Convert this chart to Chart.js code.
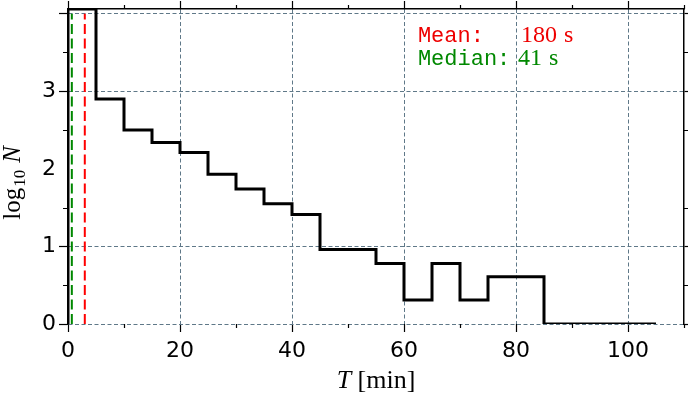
<!DOCTYPE html>
<html>
<head>
<meta charset="utf-8">
<script src="https://cdn.jsdelivr.net/npm/chart.js@4.4.1/dist/chart.umd.min.js"></script>
<style>
  html, body { margin: 0; padding: 0; background: #fff; }
  #wrap { width: 692px; height: 399px; }
</style>
</head>
<body>
<div id="wrap"><canvas id="myChart" width="692" height="399"></canvas></div>
<script>
// bin edges in minutes, 5 min bins and one wide bin at the end
const binEdges = [0, 5, 10, 15, 20, 25, 30, 35, 40, 45, 50, 55, 60, 65, 70, 75, 80, 85, 105];
// log10 of the count in each bin (the first bin runs off the top)
const logCounts = [4.06, 2.90, 2.50, 2.34, 2.21, 1.93, 1.74, 1.55, 1.41, 0.96, 0.96, 0.78, 0.31, 0.78, 0.31, 0.61, 0.61, 0];
// summary values in seconds
const meanSec = 180;
const medianSec = 41;
const statNames = ['Mean:', 'Median:'];
const statTexts = ['180', '41'];
// tick values
const xMajor = [0, 20, 40, 60, 80, 100];
const xMinor = [10, 30, 50, 70, 90, 110];
const yMajor = [0, 1, 2, 3, 4];
const yLabels = ['0', '1', '2', '3', ''];
const yMinor = [0.5, 1.5, 2.5, 3.5];

const gridGray = '#5f7888';
const ctx = document.getElementById('myChart').getContext('2d');

// step outline: rise at the first edge, each bin's level starts at its left edge,
// and the last level runs out to the last edge ('before' = across first, then up/down)
let stepPoints = [{x: binEdges[0], y: 0}];
for (let i = 0; i < logCounts.length; i++) {
    stepPoints.push({x: binEdges[i], y: logCounts[i]});
}
stepPoints.push({x: binEdges[binEdges.length - 1], y: logCounts[logCounts.length - 1]});

const vline = (sec) => [{x: sec / 60, y: 0}, {x: sec / 60, y: 4}];

// minor ticks and the texts that chart.js can't do by itself
const extras = {
    id: 'extras',
    afterDraw(chart) {
        const c = chart.ctx;
        const a = chart.chartArea;
        const sx = chart.scales.x, sy = chart.scales.y;
        c.save();
        c.strokeStyle = '#000';
        c.lineWidth = 1.2;
        c.beginPath();
        xMinor.forEach(v => {
            const px = Math.round(sx.getPixelForValue(v)) + 0.5;
            c.moveTo(px, a.bottom); c.lineTo(px, a.bottom + 4);
            c.moveTo(px, a.top); c.lineTo(px, a.top - 4);
        });
        yMinor.forEach(v => {
            const py = Math.round(sy.getPixelForValue(v)) + 0.5;
            c.moveTo(a.left, py); c.lineTo(a.left - 5, py);
            c.moveTo(a.right, py); c.lineTo(a.right + 4, py);
        });
        c.stroke();

        // mean / median box
        const colors = ['#ee0000', '#008800'];
        const tx = a.left + 0.568 * (a.right - a.left);
        const vx = a.left + 0.732 * (a.right - a.left);
        const base = [41.5, 64.5];
        c.textBaseline = 'alphabetic';
        for (let i = 0; i < statNames.length; i++) {
            c.fillStyle = colors[i];
            c.font = '22px "Liberation Mono"';
            c.fillText(statNames[i], tx, base[i]);
            c.font = '24px "Liberation Serif"';
            const x0 = i === 0 ? vx + 2 : vx - 1;
            c.fillText(statTexts[i], x0, base[i]);
            c.fillText('s', x0 + c.measureText(statTexts[i]).width + 7, base[i]);
        }

        // x axis title
        c.fillStyle = '#000';
        const cx = (a.left + a.right) / 2;
        c.font = 'italic 26px "Liberation Serif"';
        const wT = c.measureText('T').width;
        c.font = '26px "Liberation Serif"';
        const wM = c.measureText(' [min]').width;
        let x = cx - (wT + wM) / 2;
        c.font = 'italic 26px "Liberation Serif"';
        c.fillText('T', x, 388);
        c.font = '26px "Liberation Serif"';
        c.fillText(' [min]', x + wT, 388);

        // y axis title: log10 N
        c.translate(20, 183);
        c.rotate(-Math.PI / 2);
        c.font = '25px "Liberation Serif"';
        const wLog = c.measureText('log').width;
        c.font = '17px "Liberation Serif"';
        const w10 = c.measureText('10').width;
        c.font = 'italic 25px "Liberation Serif"';
        const wN = c.measureText('N').width;
        const gap = 7;
        x = -(wLog + 1 + w10 + gap + wN) / 2;
        c.font = '25px "Liberation Serif"';
        c.fillText('log', x, 0);
        c.font = '17px "Liberation Serif"';
        c.fillText('10', x + wLog + 1, 5);
        c.font = 'italic 25px "Liberation Serif"';
        c.fillText('N', x + wLog + 1 + w10 + gap, 0);
        c.restore();
    }
};

const tickFont = {family: 'DejaVu Sans', size: 22};
const hideAt = (val, color) => (context) => (context.tick && context.tick.value === val) ? 'rgba(0,0,0,0)' : color;
// fixed box sizes, no extra room for labels that hang over the ends
const fixH = h => s => { s.height = h; s.paddingLeft = 0; s.paddingRight = 0; };
const fixW = w => s => { s.width = w; s.paddingTop = 0; s.paddingBottom = 0; };

let myChart = new Chart(ctx, {
    type: 'line',
    data: {
        datasets: [{
            data: stepPoints,
            stepped: 'before',
            borderColor: '#000',
            borderWidth: 3,
            pointRadius: 0,
            fill: false
        }, {
            data: vline(medianSec),
            borderColor: '#008800',
            borderWidth: 2,
            borderDash: [10, 4.5],
            pointRadius: 0
        }, {
            data: vline(meanSec),
            borderColor: '#ff0000',
            borderWidth: 2,
            borderDash: [10, 4.5],
            pointRadius: 0
        }]
    },
    options: {
        responsive: false,
        animation: false,
        devicePixelRatio: 1,
        layout: {padding: 0},
        plugins: {legend: {display: false}, tooltip: {enabled: false}},
        scales: {
            x: {
                type: 'linear', position: 'bottom', min: 0, max: 110,
                afterBuildTicks: s => { s.ticks = xMajor.map(v => ({value: v})); },
                ticks: {font: tickFont, color: '#000', padding: 6, maxRotation: 0},
                grid: {color: hideAt(0, gridGray), lineWidth: 1, tickLength: 8, tickColor: '#000', tickWidth: 1.2},
                border: {display: false, dash: [4, 2.5]},
                afterFit: fixH(75)
            },
            x2: {
                type: 'linear', position: 'top', min: 0, max: 110,
                afterBuildTicks: s => { s.ticks = xMajor.map(v => ({value: v})); },
                ticks: {display: false},
                grid: {drawOnChartArea: false, tickLength: 8, tickColor: '#000', tickWidth: 1.2},
                border: {display: true, color: '#000', width: 1.5},
                afterFit: fixH(9)
            },
            y: {
                type: 'linear', position: 'left', min: 0, max: 4.06,
                afterBuildTicks: s => { s.ticks = yMajor.map(v => ({value: v})); },
                ticks: {font: tickFont, color: '#000', padding: 3, callback: (v, i) => yLabels[i]},
                grid: {color: hideAt(2, gridGray), lineWidth: 1, tickLength: 9, tickColor: hideAt(2, '#000'), tickWidth: 1.2},
                border: {display: true, color: '#000', width: 1.5, dash: [4, 2.5]},
                afterFit: fixW(68)
            },
            y2: {
                type: 'linear', position: 'right', min: 0, max: 4.06,
                afterBuildTicks: s => { s.ticks = yMajor.map(v => ({value: v})); },
                ticks: {display: false},
                grid: {drawOnChartArea: false, tickLength: 4, tickColor: hideAt(2, '#000'), tickWidth: 1.2},
                border: {display: true, color: '#000', width: 1.5},
                afterFit: fixW(8)
            }
        }
    },
    plugins: [extras]
});
</script>
</body>
</html>
